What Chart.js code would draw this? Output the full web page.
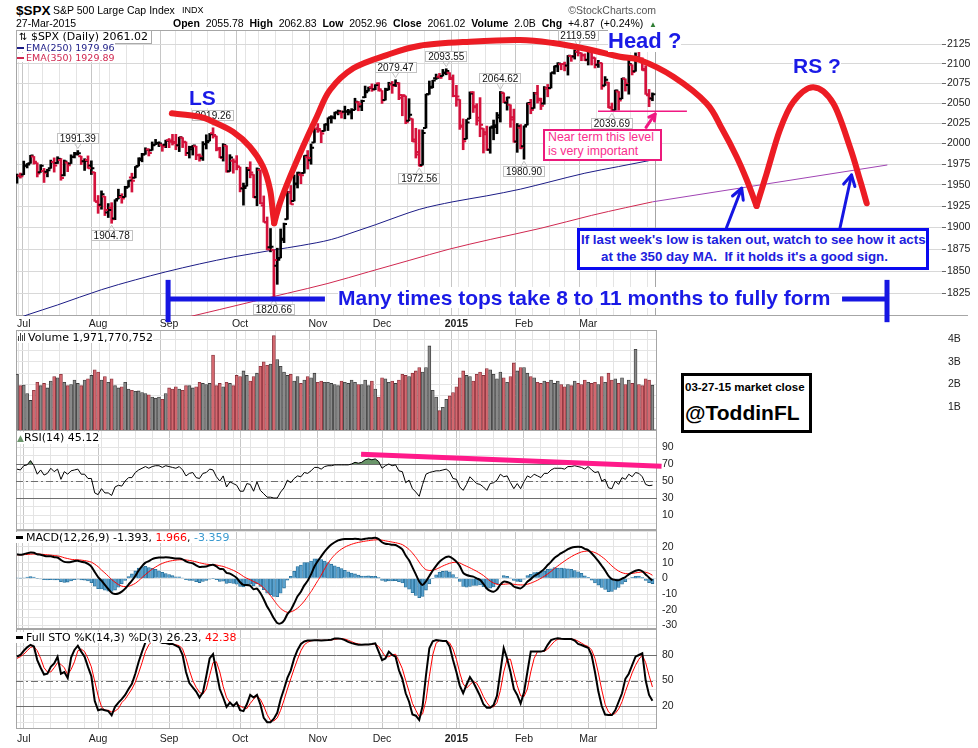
<!DOCTYPE html>
<html>
<head>
<meta charset="utf-8">
<title>$SPX S&amp;P 500 Large Cap Index</title>
<script src="https://cdn.jsdelivr.net/npm/chart.js@4.4.1/dist/chart.umd.min.js"></script>
<style>
  html, body { margin:0; padding:0; background:#ffffff; }
  body { width:978px; height:748px; position:relative; overflow:hidden; font-family:'Liberation Sans', Arial, sans-serif; color:#000; }
  canvas { position:absolute; left:0; }
  .t { position:absolute; white-space:pre; }
  .bx { position:absolute; box-sizing:border-box; background:#fff; }
</style>
</head>
<body>
<canvas id="cPrice" width="978" height="300" style="top:30px"></canvas>
<canvas id="cVol" width="978" height="100" style="top:330px"></canvas>
<canvas id="cRsi" width="978" height="100" style="top:430px"></canvas>
<canvas id="cMacd" width="978" height="99" style="top:530px"></canvas>
<canvas id="cSto" width="978" height="119" style="top:629px"></canvas>
<script>
// ================= categories (trading days) =================
const tradingDays = [
  ['2014-06', [27,30]],
  ['2014-07', [1,2,3,7,8,9,10,11,14,15,16,17,18,21,22,23,24,25,28,29,30,31]],
  ['2014-08', [1,4,5,6,7,8,11,12,13,14,15,18,19,20,21,22,25,26,27,28,29]],
  ['2014-09', [2,3,4,5,8,9,10,11,12,15,16,17,18,19,22,23,24,25,26,29,30]],
  ['2014-10', [1,2,3,6,7,8,9,10,13,14,15,16,17,20,21,22,23,24,27,28,29,30,31]],
  ['2014-11', [3,4,5,6,7,10,11,12,13,14,17,18,19,20,21,24,25,26,28]],
  ['2014-12', [1,2,3,4,5,8,9,10,11,12,15,16,17,18,19,22,23,24,26,29,30,31]],
  ['2015-01', [2,5,6,7,8,9,12,13,14,15,16,20,21,22,23,26,27,28,29,30]],
  ['2015-02', [2,3,4,5,6,9,10,11,12,13,17,18,19,20,23,24,25,26,27]],
  ['2015-03', [2,3,4,5,6,9,10,11,12,13,16,17,18,19,20,23,24,25,26,27]]
];
const monthNames = ['2015','Feb','Mar','Apr','May','Jun','Jul','Aug','Sep','Oct','Nov','Dec'];

// ================= price series (OHLC) =================
const openP = [
1957.0,1960.8,1962.3,1973.1,1975.9,1984.2,1976.4,1965.1,1966.7,1965.8,
1969.9,1977.4,1976.4,1979.8,1961.5,1976.9,1975.7,1984.0,1988.1,1984.6,
1978.3,1980.0,1973.2,1965.1,1929.8,1926.6,1936.3,1917.3,1923.0,1910.4,
1933.4,1935.7,1935.6,1947.4,1958.9,1958.4,1972.7,1979.9,1986.8,1992.6,
1991.7,1998.6,2000.5,1998.6,1998.5,2004.1,2003.6,2001.7,1998.0,2007.2,
2002.0,1988.4,1992.9,1996.7,1986.0,1981.9,1999.3,2003.1,2012.7,2009.1,
1992.8,1983.3,1997.3,1966.2,1978.9,1978.2,1971.4,1945.8,1948.5,1970.0,
1962.4,1935.6,1967.7,1925.6,1905.6,1877.1,1874.2,1855.9,1864.9,1885.6,
1909.4,1941.3,1931.0,1951.6,1962.0,1964.1,1983.3,1979.5,2001.2,2018.2,
2015.8,2015.3,2023.3,2032.4,2032.0,2038.2,2037.8,2039.2,2039.7,2038.3,
2041.5,2051.2,2045.8,2057.5,2065.1,2070.1,2067.4,2074.8,2065.8,2053.8,
2067.5,2073.6,2072.8,2074.8,2056.6,2058.9,2027.9,2030.4,2005.0,1986.7,
1973.8,2018.9,2061.0,2069.3,2081.5,2083.3,2084.3,2087.6,2088.5,2082.1,
2058.9,2054.4,2022.2,2005.6,2030.6,2063.5,2046.1,2031.6,2018.4,2013.8,
1992.3,2020.8,2020.2,2034.7,2062.9,2050.4,2047.9,2032.3,2002.5,2019.4,
1996.7,2022.7,2048.9,2043.5,2062.3,2053.5,2049.4,2068.6,2069.0,2088.8,
2096.5,2099.2,2099.7,2097.7,2109.8,2109.1,2115.3,2113.9,2110.9,2105.2,
2115.8,2107.7,2098.5,2100.9,2072.3,2076.1,2044.7,2041.1,2064.6,2055.4,
2080.6,2072.8,2098.7,2090.3,2107.9,2103.9,2093.1,2059.9,2055.78
];
const highP = [
1963.0,1964.2,1978.6,1975.7,1985.6,1984.2,1976.4,1974.2,1969.8,1968.7,
1979.8,1982.5,1983.9,1981.8,1979.9,1976.9,1986.2,1989.2,1991.39,1984.6,
1981.5,1984.9,1978.9,1965.1,1937.4,1942.9,1936.3,1927.9,1928.9,1932.4,
1944.9,1939.5,1948.4,1955.2,1964.0,1972.0,1982.6,1988.0,1994.8,1993.5,
2001.9,2005.0,2002.1,1998.6,2004.1,2006.1,2011.2,2011.2,2007.8,2007.2,
2002.0,1996.7,1997.7,1996.7,1987.2,2002.3,2010.7,2012.3,2019.26,2009.1,
1995.4,1999.8,1997.3,1986.4,1981.3,1985.2,1971.4,1952.2,1971.2,1977.8,
1962.4,1970.4,1967.7,1936.9,1912.1,1898.7,1874.2,1876.0,1898.2,1905.0,
1942.5,1949.3,1961.9,1965.3,1964.6,1985.2,1991.4,1999.4,2018.2,2024.5,
2015.8,2023.8,2031.6,2034.3,2038.7,2041.3,2040.3,2046.2,2042.2,2043.1,
2056.1,2052.1,2053.8,2071.5,2070.2,2074.2,2073.3,2075.8,2065.8,2068.8,
2076.3,2077.3,2079.47,2075.8,2060.6,2058.9,2055.5,2030.4,2018.7,2016.9,
2016.8,2061.3,2077.9,2078.8,2086.7,2087.6,2092.7,2093.55,2088.5,2085.6,
2072.4,2054.4,2030.3,2029.6,2064.1,2064.4,2049.3,2056.9,2018.4,2021.4,
2020.5,2028.9,2038.3,2064.62,2062.9,2057.6,2047.9,2042.5,2024.6,2023.3,
2021.7,2050.3,2054.7,2063.6,2072.4,2056.2,2070.9,2073.5,2088.5,2097.0,
2101.3,2100.2,2102.1,2110.6,2110.1,2117.9,2119.59,2113.9,2112.7,2117.5,
2115.8,2107.7,2104.3,2100.9,2083.5,2076.1,2050.1,2066.4,2064.6,2081.4,
2080.6,2106.9,2098.7,2113.9,2114.9,2107.6,2097.4,2067.2,2062.83
];
const lowP = [
1952.0,1958.1,1962.3,1970.3,1975.9,1974.9,1959.5,1965.1,1952.9,1959.6,
1969.9,1965.3,1975.7,1955.6,1960.8,1965.8,1975.7,1982.4,1985.8,1974.4,
1967.3,1969.8,1962.4,1930.5,1916.4,1921.2,1913.8,1911.5,1904.78,1909.0,
1933.4,1928.3,1935.6,1947.4,1941.5,1958.4,1972.7,1977.7,1986.8,1984.8,
1991.7,1998.6,1996.2,1990.5,1994.9,1994.9,1998.1,1992.4,1990.1,1995.0,
1985.2,1982.3,1985.9,1980.3,1978.5,1979.4,1993.3,2003.1,2006.6,1991.0,
1982.6,1978.6,1965.2,1966.2,1964.0,1968.0,1941.7,1926.0,1948.5,1958.4,
1934.9,1925.3,1927.6,1906.1,1874.1,1871.8,1820.66,1835.0,1864.9,1882.3,
1909.4,1927.1,1931.0,1946.3,1951.4,1964.1,1969.0,1974.8,2001.2,2013.7,
2001.0,2015.3,2015.9,2025.1,2030.2,2035.3,2031.3,2030.4,2035.2,2030.2,
2041.5,2040.4,2040.5,2056.8,2065.1,2064.8,2066.9,2065.1,2049.6,2053.8,
2066.6,2062.3,2070.8,2054.3,2034.2,2024.3,2027.9,2002.3,1982.3,1972.56,
1973.8,2018.9,2061.0,2069.3,2079.8,2081.5,2084.3,2085.8,2079.5,2057.9,
2046.0,2017.3,1992.4,2005.6,2030.6,2038.3,2022.6,2008.3,1988.4,1991.5,
1988.1,2004.5,2012.0,2026.4,2050.5,2041.2,2019.9,2001.5,1989.2,1993.4,
1980.90,2022.7,2036.7,2043.5,2050.0,2041.9,2048.6,2057.9,2069.0,2086.7,
2089.8,2092.2,2090.8,2085.4,2103.0,2105.9,2109.9,2103.8,2103.8,2098.3,
2098.3,2094.5,2095.2,2067.3,2072.2,2044.1,2039.69,2041.1,2041.2,2055.4,
2065.1,2061.2,2085.6,2090.3,2104.4,2091.5,2061.0,2045.5,2052.96
];
const closeP = [
1960.96,1960.23,1973.32,1974.62,1985.44,1977.65,1963.71,1972.83,1964.68,1967.57,
1977.10,1973.28,1981.57,1958.12,1978.22,1973.63,1983.53,1987.01,1987.98,1978.34,
1978.91,1969.95,1970.07,1930.67,1925.15,1938.99,1920.21,1920.24,1909.57,1931.59,
1936.92,1933.75,1946.72,1955.18,1955.06,1971.74,1981.60,1986.51,1992.37,1988.40,
1997.92,2000.02,2000.12,1996.74,2003.37,2002.28,2000.72,1997.65,2007.71,2001.54,
1988.44,1995.69,1997.45,1985.54,1984.13,1998.98,2001.57,2011.36,2010.40,1994.29,
1982.77,1998.30,1965.99,1982.85,1977.80,1972.29,1946.16,1946.17,1967.90,1964.82,
1935.10,1968.89,1928.21,1906.13,1874.74,1877.70,1862.49,1862.76,1886.76,1904.01,
1941.28,1927.11,1950.82,1964.58,1961.63,1985.05,1982.30,1994.65,2018.05,2017.81,
2012.10,2023.57,2031.21,2031.92,2038.26,2039.68,2038.25,2039.33,2039.82,2041.32,
2051.80,2048.72,2052.75,2063.50,2069.41,2067.03,2072.83,2067.56,2053.44,2066.55,
2074.33,2071.92,2075.37,2060.31,2059.82,2026.14,2035.33,2002.33,1989.63,1972.74,
2012.89,2061.23,2070.65,2078.54,2082.17,2081.88,2088.77,2090.57,2080.35,2058.90,
2058.20,2020.58,2002.61,2025.90,2062.14,2044.81,2028.26,2023.03,2011.27,1992.67,
2019.42,2022.55,2032.12,2063.15,2051.82,2057.09,2029.55,2002.16,2021.25,1994.99,
2020.85,2050.03,2041.51,2062.52,2055.47,2046.74,2068.59,2068.53,2088.48,2096.99,
2100.34,2099.68,2097.45,2110.30,2109.66,2115.48,2113.86,2110.74,2104.50,2117.39,
2107.78,2098.53,2101.04,2071.26,2079.43,2044.16,2040.24,2065.95,2053.40,2081.19,
2074.28,2099.50,2089.27,2108.10,2104.42,2091.50,2061.05,2056.15,2061.02
];
// volume in billions of shares
const volumeB = [
2.45,1.95,
1.98,1.60,1.30,1.75,2.10,1.95,2.05,1.85,2.15,2.35,2.30,2.45,2.10,1.95,2.00,2.20,2.05,1.95,2.20,2.25,2.40,2.65,
2.55,2.20,2.35,2.10,2.25,1.95,1.85,1.90,2.10,1.80,1.75,1.70,1.72,1.65,1.60,1.55,1.45,1.40,1.45,1.35,1.60,
1.85,1.80,1.90,1.80,1.75,1.95,1.95,1.85,1.90,2.10,2.05,2.00,2.05,3.30,1.95,2.05,1.90,2.10,2.05,1.95,2.40,
2.35,2.60,2.40,2.15,2.35,2.50,2.80,3.00,2.85,2.90,4.15,3.10,2.80,2.55,2.40,2.45,2.15,2.35,2.05,2.20,2.35,2.30,2.50,
2.10,2.15,2.10,2.10,2.05,2.00,1.95,2.15,2.10,2.05,2.20,2.10,2.00,2.00,2.20,1.95,2.15,1.80,1.45,
2.30,2.25,2.10,2.15,2.05,2.20,2.45,2.40,2.35,2.50,2.60,2.75,2.55,2.75,3.70,1.75,1.45,0.85,1.00,1.35,1.50,1.65,
1.90,2.30,2.60,2.40,2.35,2.15,2.45,2.55,2.40,2.70,2.65,2.45,2.25,2.55,2.30,2.10,2.35,2.95,2.60,2.75,
2.75,2.50,2.35,2.30,2.10,2.05,2.15,2.10,2.20,2.05,2.15,2.00,1.90,2.00,1.95,2.15,2.05,2.00,2.20,
2.10,2.05,2.10,2.00,2.35,2.10,2.50,2.20,2.25,2.05,2.30,2.00,2.20,2.05,3.55,2.00,1.95,2.25,2.20,1.971770752
];
// moving averages read at points along the lines (bar index, value)
const ema250Idx = [0,3,12,25,35,44,54,64,70,76,84,93,100,106,113,119,129,139,149,158,168,178,188];
const ema250Val = [1797,1801,1812,1829,1840,1849,1858,1866,1870,1874,1879,1886,1895,1903,1913,1921,1930,1937,1945,1954,1964,1972,1979.96];
const ema350Idx = [45,51,60,70,80,92,104,116,128,140,155,170,180,188];
const ema350Val = [1794,1799,1807,1816,1825,1836,1849,1862,1875,1886,1899,1914,1923,1929.89];

// ================= indicator series =================
const rsi14 = [
64,63,68,69,74,68,58,63,57,59,
65,61,64,52,61,58,62,63,64,58,
58,53,53,36,34,41,36,36,33,43,
45,44,50,54,54,60,63,65,67,65,
67,68,68,66,68,67,66,65,67,63,
56,59,60,54,53,59,60,64,63,55,
50,56,43,49,47,45,38,38,47,46,
38,49,39,35,31,31,30,30,37,42,
51,48,53,56,55,60,59,62,66,66,
64,67,68,68,69,69,69,69,69,70,
72,71,72,75,76,75,76,73,65,68,
70,68,69,62,61,48,51,41,37,32,
46,58,60,61,62,62,63,64,61,53,
52,43,39,46,55,51,47,46,43,39,
47,48,51,58,55,56,48,41,47,41,
49,56,54,58,56,54,59,59,63,65,
65,65,64,67,67,68,67,66,64,67,
63,60,61,50,52,42,41,50,46,54,
52,58,55,60,59,55,46,44.5,45.12
];
const macdLine = [
15.3,15.0,15.4,16.0,16.5,16.3,15.3,15.0,14.4,14.0,
14.0,13.5,13.3,11.7,10.5,10.2,10.4,11.0,11.2,10.6,
10.2,9.2,7.5,4.0,0.8,-1.5,-4.2,-6.8,-9.2,-10.0,
-9.7,-8.5,-6.6,-4.0,-1.5,1.5,5.0,7.8,10.0,11.0,
12.2,12.9,13.3,13.3,13.4,13.3,13.0,12.6,12.7,12.1,
10.8,10.0,9.6,8.3,7.2,7.4,7.6,8.3,8.6,7.6,
6.0,5.8,3.5,3.0,1.8,0.2,-2.5,-4.2,-4.2,-4.6,
-7.0,-6.5,-9.4,-13.3,-18.0,-21.5,-25.5,-28.5,-28.7,-27.0,
-22.8,-20.2,-16.0,-11.5,-8.5,-4.5,-1.5,2.5,7.5,11.0,
14.0,17.0,19.5,21.5,23.0,24.2,24.8,25.0,25.0,25.0,
25.2,25.0,24.8,25.2,25.6,25.6,25.8,25.0,23.0,22.0,
21.8,21.4,21.2,20.0,18.5,14.5,11.5,7.0,2.5,-2.0,
-4.2,-2.0,1.5,5.0,8.0,10.6,12.3,13.6,13.8,12.5,
10.6,7.8,3.5,2.1,1.5,1.1,0.0,-1.0,-3.5,-6.5,
-8.0,-8.5,-7.2,-4.0,-2.1,-2.3,-3.2,-5.2,-6.0,-6.4,
-4.8,-2.1,-0.5,1.5,2.7,4.2,6.0,8.5,10.5,13.0,
14.5,16.0,17.2,18.6,19.5,20.0,20.2,20.0,18.8,18.0,
16.0,13.5,11.0,8.0,5.0,1.5,-0.5,-1.0,-1.2,-0.2,
0.8,2.5,3.8,4.8,5.3,4.5,2.5,0.4,-1.393
];
const macdSignal = [
15.0,15.0,15.1,15.2,15.4,15.5,15.5,15.4,15.2,15.0,
14.8,14.5,14.3,13.8,13.1,12.6,12.1,11.9,11.8,11.6,
11.3,10.9,10.3,9.0,7.4,5.3,3.4,1.4,-0.8,-2.5,
-4.0,-5.0,-5.3,-5.1,-4.3,-3.2,-1.5,0.5,2.4,4.2,
5.8,7.2,8.5,9.5,10.3,10.9,11.3,11.6,11.8,11.8,
11.7,11.4,11.0,10.5,9.9,9.4,9.0,8.8,8.7,8.5,
8.0,7.6,6.8,6.0,5.1,4.0,2.7,1.2,0.0,-0.9,
-2.1,-3.0,-4.3,-6.1,-8.5,-11.0,-13.9,-16.8,-19.2,-20.8,
-21.7,-21.4,-20.5,-19.0,-17.0,-14.5,-11.5,-8.5,-5.0,-1.5,
2.0,6.0,9.5,12.5,15.0,17.0,18.6,19.9,20.9,21.7,
22.4,22.9,23.3,23.7,24.0,24.3,24.5,24.6,24.3,23.9,
23.5,23.1,22.7,22.2,21.5,20.1,18.4,16.1,13.4,10.3,
7.4,5.5,5.0,5.2,5.8,6.8,7.9,8.8,9.6,10.1,
10.2,9.8,8.7,7.7,6.7,5.6,4.5,3.2,1.8,0.0,
-1.7,-3.0,-3.8,-4.0,-3.8,-3.6,-3.5,-3.8,-4.1,-4.2,
-4.2,-3.8,-3.1,-2.2,-1.2,0.0,1.3,2.8,4.4,6.2,
7.9,9.5,11.0,12.5,13.8,15.0,16.0,16.8,17.2,17.4,
17.1,16.4,15.3,13.8,12.1,10.0,7.9,6.1,4.6,3.6,
3.0,2.9,3.1,3.5,3.8,4.0,3.9,3.2,1.966
];
const macdHist = [
0.3,0.1,0.3,0.8,1.1,0.8,-0.2,-0.4,-0.8,-1.0,
-0.8,-1.0,-1.0,-2.1,-2.6,-2.4,-1.7,-0.9,-0.6,-1.0,
-1.1,-1.7,-2.8,-5.0,-6.6,-6.8,-7.6,-8.2,-8.4,-7.5,
-5.7,-3.5,-1.3,1.1,2.8,4.7,6.5,7.3,7.6,6.8,
6.4,5.7,4.8,3.8,3.1,2.4,1.7,1.0,0.9,0.3,
-0.9,-1.4,-1.4,-2.2,-2.7,-2.0,-1.4,-0.5,-0.1,-0.9,
-2.0,-1.8,-3.3,-3.0,-3.3,-3.8,-5.2,-5.4,-4.2,-3.7,
-4.9,-3.5,-5.1,-7.2,-9.5,-10.5,-11.6,-11.7,-9.5,-6.2,
-1.1,1.2,4.5,7.5,8.5,10.0,10.0,11.0,12.5,12.5,
12.0,11.0,10.0,9.0,8.0,7.2,6.2,5.1,4.1,3.3,
2.8,2.1,1.5,1.5,1.6,1.3,1.3,0.4,-1.3,-1.9,
-1.7,-1.7,-1.5,-2.2,-3.0,-5.6,-6.9,-9.1,-10.9,-12.3,
-11.6,-7.5,-3.5,-0.2,2.2,3.8,4.4,4.8,4.2,2.4,
0.4,-2.0,-5.2,-5.6,-5.2,-4.5,-4.5,-4.2,-5.3,-6.5,
-6.3,-5.5,-3.4,0.0,1.7,1.3,0.3,-1.4,-1.9,-2.2,
-0.6,1.7,2.6,3.7,3.9,4.2,4.7,5.7,6.1,6.8,
6.6,6.5,6.2,6.1,5.7,5.0,4.2,3.2,1.6,0.6,
-1.1,-2.9,-4.3,-5.8,-7.1,-8.5,-8.4,-7.1,-5.8,-3.8,
-2.2,-0.4,0.7,1.3,1.5,0.5,-1.4,-2.8,-3.359
];
const stoK = [
78,80,85,89,92,90,74,65,57,58,
66,70,78,58,60,53,77,86,91,84,
78,66,55,26,15,16,15,14,9,19,
24,28,33,40,46,58,72,84,95,96,
98,98,96,94,94,93,93,91,89,80,
60,47,42,37,30,36,55,76,81,60,
40,30,19,24,20,24,15,14,22,33,
30,33,22,6,1,1,5,12,28,40,
53,62,76,86,93,96,97,97,97.5,97.5,
97,97.5,97.6,98,99.5,99.5,99,97.6,95.5,94,
93,92,92,92.5,92.5,93,93.7,84,74,76,
84,80,78,62,52,35,25,10,8.6,3.5,
20,56,88,96,97.5,97,96.5,96.5,90,74,
60,44,35,45,54,48,40,32,22,18,
18,21,32,60,88,76,60,40,33,23,
36,60,84,84,84,84,85,92,97.6,99,
99.6,99,98.8,98.8,98.8,97,93,91.8,90,88.6,
80,60,37,20,10,9.4,9.4,15,25,35,
52,58,68,78,80,82,50,33,26.23
];
const stoD = [
76,78,81,85,89,90,85,76,65,60,
60,65,71,69,65,57,63,72,85,87,
84,76,66,49,32,19,15,15,13,14,
17,24,28,34,40,48,59,71,84,92,
96,97,97,96,95,94,93,92,91,87,
76,62,50,42,36,34,40,56,71,72,
60,43,30,24,21,23,20,18,17,23,
28,32,28,20,10,3,2.5,6,15,27,
40,52,64,75,85,92,95,96.7,97.2,97.3,
97.3,97.3,97.4,97.7,98.4,99,99.3,98.7,97.4,95.7,
94,93,92.3,92.2,92.3,92.7,93,90,84,78,
78,80,81,73,64,50,37,23,15,7.4,
10.7,26.5,55,80,94,97,97,96.7,94.3,87,
75,59,46,41,45,49,47,40,31,24,
19,19,24,38,60,75,75,59,44,32,
31,40,60,76,84,84,84.3,87,91.5,96,
98.7,99.2,99.1,98.9,98.8,98.2,96.3,94,91.6,90,
86,76,59,39,22,13,9.6,11.3,16.5,25,
37,48,59,68,75,80,71,56,42.38
];

// ================= tick values / labels =================
const priceTicks = [1825,1850,1875,1900,1925,1950,1975,2000,2025,2050,2075,2100,2125];
const volumeTicks = [0.5,1,1.5,2,2.5,3,3.5,4];
const volumeLabels = [1,2,3,4];
const rsiTicks = [0,10,20,30,40,50,60,70,80,90,100];
const rsiLabels = [10,30,50,70,90];
const macdTicks = [-30,-25,-20,-15,-10,-5,0,5,10,15,20,25,30];
const macdLabels = [-30,-20,-10,0,10,20];
const stoTicks = [0,10,20,30,40,50,60,70,80,90,100];
const stoLabels = [20,50,80];
const rsiLevels = [30,50,70];
const stoLevels = [20,50,80];
const highLabelIdx = [18,58,112,127,143,166];
const lowLabelIdx = [28,76,119,150,176];

// ================= hand-drawn annotations (bar index, price) =================
const lsCurve = [[45.8,2037.2],[54.1,2033.0],[58.0,2026.8],[63.9,2014.5],[68.9,1996.1],[72.8,1971.8],[74.9,1943.9],[75.7,1916.8],[76.1,1904.8]];
const headCurve = [[76.1,1904.8],[77.8,1928.6],[80.8,1959.8],[84.6,1996.1],[88.7,2033.0],[92.6,2066.5],[99.5,2094.1],[109.4,2111.1],[119.2,2123.2],[134.0,2128.4],[148.8,2130.6],[158.6,2126.7],[168.6,2118.9],[178.4,2108.9],[184.3,2104.7],[194.2,2083.3],[204.0,2049.7],[208.5,2018.6],[212.9,1983.9],[215.9,1955.9],[218.8,1925.0]];
const rsCurve = [[218.8,1925.0],[221.8,1963.9],[225.7,2016.6],[229.7,2051.7],[235.6,2069.9],[241.5,2049.7],[246.4,1996.1],[249.4,1955.9],[251.4,1928.2]];
const spanBar = { level:1818.6, capTop:1840, capBottom:1793, left:44.7, leftEnd:91.1, rightStart:244.1, right:257.4 };
const blueArrows = [[[209.9,1899.6],[214.4,1946.0]], [[243.5,1899.6],[246.9,1961.8]]];
const pinkArrow = [[186.1,2019.9],[188.8,2036.4]];
const pinkLineSpan = [171.9, 198.2];
const maExtensionEnd = [257.5, 1973.9];
const rsiTrend = [[101.8,81.4],[190.7,67.3]];

// ================= derived helpers =================
const N = closeP.length;
const dates = [];
tradingDays.forEach(([ym, days]) => {
  const [y, m] = ym.split('-').map(Number);
  days.forEach(d => dates.push({ y, m, d, wd: new Date(y, m - 1, d).getDay() }));
});
const monthLabel = {};
const monthStart = new Set();
const gridIdx = [];
for (let i = 1; i < dates.length; i++) {
  const newMonth = dates[i].m !== dates[i - 1].m;
  const newWeek = dates[i].wd <= dates[i - 1].wd;
  if (newMonth) { monthStart.add(i); monthLabel[i] = monthNames[dates[i].m - 1]; }
  if (newMonth || newWeek) gridIdx.push(i);
}
const isUp = closeP.map((c, i) => i === 0 ? c >= openP[0] : c >= closeP[i - 1]);
const BAR_UP = '#000000', BAR_DN = '#d4123c';

Chart.defaults.font.family = "'Liberation Sans', Arial, sans-serif";
Chart.defaults.font.size = 10.5;
Chart.defaults.color = '#333';

const X_MIN = -0.296;
function xAxis(maxV, showLabels, height, pad) {
  return {
    type: 'linear', min: X_MIN, max: maxV, bounds: 'data', offset: false,
    afterBuildTicks: s => { s.ticks = gridIdx.map(v => ({ value: v })); },
    afterFit: s => { s.height = height; s.paddingLeft = 0; s.paddingRight = 0; s.paddingTop = 0; s.paddingBottom = 0; },
    grid: { color: c => (c.tick && monthStart.has(c.tick.value)) ? '#c6c6c6' : '#e4e4e4', lineWidth: 1, drawTicks: false },
    border: { display: false },
    ticks: {
      display: showLabels, autoSkip: false, maxRotation: 0, minRotation: 0, padding: pad, color: '#222',
      font: c => ({ size: 10.5, weight: (c.tick && monthLabel[c.tick.value] === '2015') ? 'bold' : 'normal' }),
      callback: v => monthLabel[v] || ''
    }
  };
}
function yAxis(min, max, tickList, labelList, width, pad, fmt) {
  return {
    type: 'linear', position: 'right', min, max, bounds: 'data',
    afterBuildTicks: s => { s.ticks = tickList.map(v => ({ value: v })); },
    afterFit: s => { s.width = width; s.paddingTop = 0; s.paddingBottom = 0; s.paddingLeft = 0; s.paddingRight = 0; },
    grid: { color: '#e4e4e4', drawTicks: false },
    border: { display: false },
    ticks: { padding: pad, color: '#222', font: { size: 10.5 }, autoSkip: false,
      callback: v => labelList.includes(v) ? fmt(v) : '' }
  };
}
function baseOptions(scales) {
  return {
    responsive: false, animation: false, events: [],
    layout: { padding: { left: 16, right: 0, top: 0, bottom: 0 }, autoPadding: false },
    plugins: { legend: { display: false }, tooltip: { enabled: false } },
    scales
  };
}
function framePlugin(rightIdx, extendTo) {
  return {
    id: 'frame',
    beforeDatasetsDraw(chart) {
      const { ctx, chartArea: a, scales: { x } } = chart;
      const r = rightIdx == null ? a.right : x.getPixelForValue(rightIdx);
      ctx.save();
      ctx.strokeStyle = '#a6a6a6'; ctx.lineWidth = 1;
      ctx.strokeRect(Math.round(a.left) + 0.5, Math.round(a.top) + 0.5, Math.round(r - a.left) - 1, Math.round(a.bottom - a.top) - 1);
      if (extendTo) {
        ctx.beginPath(); ctx.moveTo(r, Math.round(a.bottom) - 0.5); ctx.lineTo(extendTo, Math.round(a.bottom) - 0.5); ctx.stroke();
      }
      ctx.restore();
    }
  };
}
function levelPlugin(levels) {
  return {
    id: 'levels',
    beforeDatasetsDraw(chart) {
      const { ctx, chartArea: a, scales: { y } } = chart;
      ctx.save(); ctx.strokeStyle = '#6e6e6e'; ctx.lineWidth = 1;
      levels.forEach((v, k) => {
        const py = Math.round(y.getPixelForValue(v)) + 0.5;
        ctx.setLineDash(k === 1 ? [7, 3, 2, 3] : []);
        ctx.beginPath(); ctx.moveTo(a.left, py); ctx.lineTo(a.right, py); ctx.stroke();
      });
      ctx.restore();
    }
  };
}
function curve(ctx, pts) {
  ctx.beginPath(); ctx.moveTo(pts[0][0], pts[0][1]);
  for (let i = 0; i < pts.length - 1; i++) {
    const p0 = pts[i - 1] || pts[i], p1 = pts[i], p2 = pts[i + 1], p3 = pts[i + 2] || p2;
    ctx.bezierCurveTo(p1[0] + (p2[0] - p0[0]) / 6, p1[1] + (p2[1] - p0[1]) / 6,
                      p2[0] - (p3[0] - p1[0]) / 6, p2[1] - (p3[1] - p1[1]) / 6, p2[0], p2[1]);
  }
  ctx.stroke();
}
function arrow(ctx, a, b, color, w, head) {
  ctx.strokeStyle = color; ctx.lineWidth = w; ctx.lineCap = 'round'; ctx.lineJoin = 'round';
  ctx.beginPath(); ctx.moveTo(a[0], a[1]); ctx.lineTo(b[0], b[1]); ctx.stroke();
  const ang = Math.atan2(b[1] - a[1], b[0] - a[0]);
  ctx.beginPath();
  ctx.moveTo(b[0] - head * Math.cos(ang - 0.5), b[1] - head * Math.sin(ang - 0.5));
  ctx.lineTo(b[0], b[1]);
  ctx.lineTo(b[0] - head * Math.cos(ang + 0.5), b[1] - head * Math.sin(ang + 0.5));
  ctx.stroke();
}

// ================= price chart =================
const ohlcPlugin = {
  id: 'ohlc',
  afterDatasetsDraw(chart) {
    const { ctx, chartArea: a, scales: { x, y } } = chart;
    ctx.save();
    ctx.beginPath(); ctx.rect(a.left, a.top, a.right - a.left, a.bottom - a.top); ctx.clip();
    ctx.lineWidth = 2;
    for (let i = 0; i < N; i++) {
      const px = x.getPixelForValue(i);
      const yo = y.getPixelForValue(openP[i]), yc = y.getPixelForValue(closeP[i]);
      ctx.strokeStyle = isUp[i] ? BAR_UP : BAR_DN;
      ctx.beginPath();
      ctx.moveTo(px - 3, yo); ctx.lineTo(px, yo);
      ctx.moveTo(px, yc); ctx.lineTo(px + 3, yc);
      ctx.stroke();
    }
    ctx.restore();
    // value labels at swing highs / lows
    ctx.save();
    ctx.font = '10px "Liberation Sans", Arial, sans-serif';
    ctx.textAlign = 'center'; ctx.textBaseline = 'middle';
    const box = (i, v, up) => {
      const px = x.getPixelForValue(i), pv = y.getPixelForValue(v);
      const txt = v.toFixed(2), w = Math.round(ctx.measureText(txt).width) + 6, h = 11;
      const top = up ? Math.round(pv) - 7 - h : Math.round(pv) + 7;
      const left = Math.round(px - w / 2);
      ctx.fillStyle = '#fff'; ctx.fillRect(left, top, w, h);
      ctx.strokeStyle = '#c2c2c2'; ctx.lineWidth = 1;
      ctx.strokeRect(left + 0.5, top + 0.5, w - 1, h - 1);
      ctx.beginPath();
      const ey = up ? top + h : top, ty = up ? pv - 2 : pv + 2;
      ctx.moveTo(px - 3, ey); ctx.lineTo(px, ty); ctx.lineTo(px + 3, ey); ctx.stroke();
      ctx.fillStyle = '#111'; ctx.fillText(txt, px, top + h / 2 + 0.5);
    };
    highLabelIdx.forEach(i => box(i, highP[i], true));
    lowLabelIdx.forEach(i => box(i, lowP[i], false));
    ctx.restore();
  }
};
const annotPlugin = {
  id: 'annot',
  afterDraw(chart) {
    const { ctx, scales: { x, y } } = chart;
    const P = p => [x.getPixelForValue(p[0]), y.getPixelForValue(p[1])];
    ctx.save();
    // 350-day MA projection
    ctx.strokeStyle = '#a044b4'; ctx.lineWidth = 1;
    const m0 = P([ema350Idx[ema350Idx.length - 1], ema350Val[ema350Val.length - 1]]), m1 = P(maExtensionEnd);
    ctx.beginPath(); ctx.moveTo(m0[0], m0[1]); ctx.lineTo(m1[0], m1[1]); ctx.stroke();
    // near-term support line
    ctx.strokeStyle = '#f01882'; ctx.lineWidth = 1.5;
    const l0 = P([pinkLineSpan[0], lowP[176]]), l1 = P([pinkLineSpan[1], lowP[176]]);
    ctx.beginPath(); ctx.moveTo(l0[0], l0[1]); ctx.lineTo(l1[0], l1[1]); ctx.stroke();
    arrow(ctx, P(pinkArrow[0]), P(pinkArrow[1]), '#f01882', 3, 7);
    // time span bar
    ctx.strokeStyle = '#1616e2'; ctx.lineWidth = 5; ctx.lineCap = 'butt';
    const seg = (a, b) => { const p = P(a), q = P(b); ctx.beginPath(); ctx.moveTo(p[0], p[1]); ctx.lineTo(q[0], q[1]); ctx.stroke(); };
    seg([spanBar.left, spanBar.level], [spanBar.leftEnd, spanBar.level]);
    seg([spanBar.rightStart, spanBar.level], [spanBar.right, spanBar.level]);
    seg([spanBar.left, spanBar.capTop], [spanBar.left, spanBar.capBottom]);
    seg([spanBar.right, spanBar.capTop], [spanBar.right, spanBar.capBottom]);
    // head & shoulders arcs
    ctx.strokeStyle = '#ec1c24'; ctx.lineWidth = 6; ctx.lineCap = 'round'; ctx.lineJoin = 'round';
    [lsCurve, headCurve, rsCurve].forEach(c => curve(ctx, c.map(P)));
    // arrows to the 350 MA
    blueArrows.forEach(([a, b]) => arrow(ctx, P(a), P(b), '#1616e2', 3, 12));
    ctx.restore();
  }
};
new Chart(document.getElementById('cPrice'), {
  data: {
    datasets: [
      { type: 'bar', data: highP.map((h, i) => ({ x: i, y: [lowP[i], h] })),
        backgroundColor: isUp.map(u => u ? BAR_UP : BAR_DN), barThickness: 2, borderWidth: 0 },
      { type: 'line', data: ema250Idx.map((v, k) => ({ x: v, y: ema250Val[k] })),
        borderColor: '#1c1c86', borderWidth: 1, pointRadius: 0, cubicInterpolationMode: 'monotone' },
      { type: 'line', data: ema350Idx.map((v, k) => ({ x: v, y: ema350Val[k] })),
        borderColor: '#d02850', borderWidth: 1, pointRadius: 0, cubicInterpolationMode: 'monotone' }
    ]
  },
  options: baseOptions({
    x: xAxis(273.67, true, 14, 2),
    y: {
      type: 'logarithmic', position: 'right', min: 1799.8, max: 2143.7, bounds: 'data',
      afterBuildTicks: s => { s.ticks = priceTicks.map(v => ({ value: v })); },
      afterFit: s => { s.width = 36; s.paddingTop = 0; s.paddingBottom = 0; s.paddingLeft = 0; s.paddingRight = 0; },
      grid: { color: '#d8d8d8', drawTicks: true, tickLength: 4, tickColor: '#666' },
      border: { display: false },
      ticks: { padding: 1, color: '#222', font: { size: 10.5 }, autoSkip: false, callback: v => String(v) }
    }
  }),
  plugins: [framePlugin(189.05, 968), ohlcPlugin, annotPlugin]
});

// ================= volume =================
new Chart(document.getElementById('cVol'), {
  data: { datasets: [{
    type: 'bar', data: volumeB.map((v, i) => ({ x: i, y: v })),
    backgroundColor: isUp.map(u => u ? '#8a8a8a' : '#d3686f'),
    borderColor: isUp.map(u => u ? '#3a3a3a' : '#86303a'),
    borderWidth: 0.8, barThickness: 3
  }]},
  options: baseOptions({
    x: xAxis(189.35, false, 0, 0),
    y: yAxis(0, 4.4, volumeTicks, volumeLabels, 321, 291, v => v + 'B')
  }),
  plugins: [framePlugin(null)]
});

// ================= RSI =================
const rsiTrendPlugin = {
  id: 'rsiTrend',
  afterDraw(chart) {
    const { ctx, scales: { x, y } } = chart;
    const p = rsiTrend.map(q => [x.getPixelForValue(q[0]), y.getPixelForValue(q[1])]);
    ctx.save(); ctx.strokeStyle = '#ff1a8a'; ctx.lineWidth = 5; ctx.lineCap = 'butt';
    ctx.beginPath(); ctx.moveTo(p[0][0], p[0][1]); ctx.lineTo(p[1][0], p[1][1]); ctx.stroke();
    ctx.restore();
  }
};
new Chart(document.getElementById('cRsi'), {
  data: { datasets: [
    { type: 'line', data: rsi14.map((v, i) => ({ x: i, y: v })), borderColor: '#000', borderWidth: 1, pointRadius: 0, tension: 0 },
    { type: 'line', data: rsi14.map((v, i) => ({ x: i, y: v })), borderWidth: 0, pointRadius: 0,
      fill: { target: { value: rsiLevels[2] }, above: '#6a956a', below: 'rgba(0,0,0,0)' } },
    { type: 'line', data: rsi14.map((v, i) => ({ x: i, y: v })), borderWidth: 0, pointRadius: 0,
      fill: { target: { value: rsiLevels[0] }, above: 'rgba(0,0,0,0)', below: '#6a956a' } }
  ]},
  options: baseOptions({
    x: xAxis(189.35, false, 0, 0),
    y: yAxis(-7.6, 110, rsiTicks, rsiLabels, 321, 5, v => String(v))
  }),
  plugins: [framePlugin(null), levelPlugin(rsiLevels), rsiTrendPlugin]
});

// ================= MACD =================
new Chart(document.getElementById('cMacd'), {
  data: { datasets: [
    { type: 'line', data: macdLine.map((v, i) => ({ x: i, y: v })), borderColor: '#000', borderWidth: 2, pointRadius: 0, tension: 0.2 },
    { type: 'line', data: macdSignal.map((v, i) => ({ x: i, y: v })), borderColor: '#ff0000', borderWidth: 1, pointRadius: 0, tension: 0.2 },
    { type: 'bar', data: macdHist.map((v, i) => ({ x: i, y: v })), backgroundColor: '#5aa2cf', borderColor: '#266e98', borderWidth: 0.8, barThickness: 3 }
  ]},
  options: baseOptions({
    x: xAxis(189.35, false, 0, 0),
    y: yAxis(-32.3, 30.8, macdTicks, macdLabels, 321, 5, v => String(v))
  }),
  plugins: [framePlugin(null)]
});

// ================= Full Stochastics =================
new Chart(document.getElementById('cSto'), {
  data: { datasets: [
    { type: 'line', data: stoK.map((v, i) => ({ x: i, y: v })), borderColor: '#000', borderWidth: 2, pointRadius: 0, tension: 0 },
    { type: 'line', data: stoD.map((v, i) => ({ x: i, y: v })), borderColor: '#ff0000', borderWidth: 1, pointRadius: 0, tension: 0 }
  ]},
  options: baseOptions({
    x: xAxis(189.35, true, 19, 4),
    y: yAxis(-7.06, 110.6, stoTicks, stoLabels, 321, 5, v => String(v))
  }),
  plugins: [framePlugin(null), levelPlugin(stoLevels)]
});

// ================= text overlays =================
function addText(x, base, size, html, opt = {}) {
  const d = document.createElement('div');
  d.className = 't';
  d.style.fontSize = size + 'px';
  d.style.lineHeight = size + 'px';
  d.style.top = (base - 0.846 * size) + 'px';
  if (opt.right) d.style.right = (978 - x) + 'px'; else d.style.left = x + 'px';
  if (opt.family) d.style.fontFamily = opt.family;
  if (opt.bold) d.style.fontWeight = 'bold';
  if (opt.color) d.style.color = opt.color;
  if (opt.bg) d.style.background = opt.bg;
  if (opt.css) d.style.cssText += opt.css;
  d.innerHTML = html;
  document.body.appendChild(d);
  return d;
}
function addBox(left, top, w, h, border) {
  const d = document.createElement('div');
  d.className = 'bx';
  d.style.cssText += `left:${left}px;top:${top}px;width:${w}px;height:${h}px;border:${border};`;
  document.body.appendChild(d);
}
const L = N - 1;
const chg = closeP[L] - closeP[L - 1];
const DV = "'DejaVu Sans', Verdana, sans-serif";
addText(16, 15, 13.5, '$SPX', { bold: true });
addText(53, 14, 10.5, 'S&amp;P 500 Large Cap Index');
addText(182, 14, 9, 'INDX');
addText(656, 14, 10.5, '&copy;StockCharts.com', { right: true, color: '#555' });
addText(16, 26.5, 10.5, '27-Mar-2015');
addText(173, 26.5, 10.5,
  `<b>Open</b> ${openP[L].toFixed(2)} <b>High</b> ${highP[L].toFixed(2)} <b>Low</b> ${lowP[L].toFixed(2)} <b>Close</b> ${closeP[L].toFixed(2)} <b>Volume</b> ${volumeB[L].toFixed(1)}B <b>Chg</b> ${chg >= 0 ? '+' : ''}${chg.toFixed(2)} (${chg >= 0 ? '+' : ''}${(chg / closeP[L - 1] * 100).toFixed(2)}%) <span style="color:#2e7d32;font-size:8px">&#9650;</span>`,
  { css: 'white-space:nowrap;width:484px;text-align:justify;text-align-last:justify;' });

// price legend
addText(16, 40.3, 11, `<span style="font-size:10px">&#8645;</span> $SPX (Daily) ${closeP[L].toFixed(2)}`,
  { family: DV, bg: '#fff', css: 'border:1px solid #aaa;padding:0 3px 1px 2px;top:30px;' });
const dash = c => `<span style="display:inline-block;width:7px;height:2px;background:${c};vertical-align:middle;margin-right:2px"></span>`;
addText(17, 51, 9.5, `${dash('#1c1c86')}EMA(250) ${ema250Val[ema250Val.length - 1].toFixed(2)}`, { family: DV, color: '#1c1c86', bg: '#fff' });
addText(17, 61, 9.5, `${dash('#d02850')}EMA(350) ${ema350Val[ema350Val.length - 1].toFixed(2)}`, { family: DV, color: '#d02850', bg: '#fff' });

// lower panel legends
const volIcon = '<span style="display:inline-block;width:1px;height:5px;background:#444;margin-right:1px"></span><span style="display:inline-block;width:1px;height:8px;background:#444;margin-right:1px"></span><span style="display:inline-block;width:1px;height:6px;background:#444;margin-right:1px"></span><span style="display:inline-block;width:1px;height:8px;background:#444;margin-right:3px"></span>';
addText(18, 341, 11, `${volIcon}Volume ${Math.round(volumeB[L] * 1e9).toLocaleString('en-US')}`, { family: DV, bg: '#fff' });
addText(17, 441, 11, `<span style="color:#6a956a;font-size:9px">&#9650;</span>RSI(14) ${rsi14[L].toFixed(2)}`, { family: DV, bg: '#fff' });
const bdash = '<span style="display:inline-block;width:7px;height:3px;background:#000;vertical-align:middle;margin-right:3px"></span>';
addText(16, 541, 11, `${bdash}MACD(12,26,9) ${macdLine[L].toFixed(3)}, <span style="color:#ff0000">${macdSignal[L].toFixed(3)}</span>, <span style="color:#3a9ad0">${macdHist[L].toFixed(3)}</span>`, { family: DV, bg: '#fff' });
addText(16, 641, 11, `${bdash}Full STO %K(14,3) %D(3) ${stoK[L].toFixed(2)}, <span style="color:#ff0000">${stoD[L].toFixed(2)}</span>`, { family: DV, bg: '#fff' });

// annotation texts
const BLUE = '#1a1ae6';
addText(189, 105, 21, 'LS', { bold: true, color: BLUE, bg: '#fff' });
addText(608, 49, 22, 'Head ?', { bold: true, color: BLUE, bg: '#fff' });
addText(793, 73, 21, 'RS ?', { bold: true, color: BLUE, bg: '#fff' });
addText(338, 305, 21, 'Many times tops take 8 to 11 months to fully form', { bold: true, color: BLUE, bg: '#fff' });

addBox(543, 129, 119, 32, '2px solid #ec1a7c');
addText(548, 141.5, 12.3, 'Near term this level', { color: '#fa2e8e' });
addText(548, 155.5, 12.3, 'is very important', { color: '#fa2e8e' });

addBox(577, 228, 352, 42, '3px solid #0a0af0');
addText(581, 244, 13.3, "If last week's low is taken out, watch to see how it acts", { bold: true, color: '#2020dd' });
addText(601, 261, 13.3, "at the 350 day MA.  If it holds it's a good sign.", { bold: true, color: '#2020dd' });

addBox(681, 373, 131, 60, '3px solid #000');
addText(685, 392, 11.5, '03-27-15 market close', { bold: true });
addText(685, 420, 21, '@ToddinFL', { bold: true });
</script>
</body>
</html>
